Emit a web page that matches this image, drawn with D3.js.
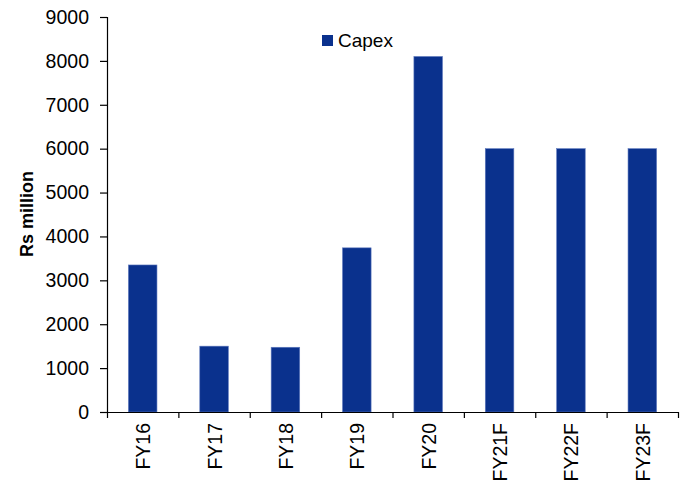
<!DOCTYPE html>
<html>
<head>
<meta charset="utf-8">
<script src="https://cdn.jsdelivr.net/npm/d3@7"></script>
<style>
  html, body { margin: 0; padding: 0; background: #fff; }
  svg { display: block; font-family: "Liberation Sans", Arial, sans-serif; }
</style>
</head>
<body>
<svg id="chart" width="691" height="486"></svg>
<script>
const categories = ["FY16", "FY17", "FY18", "FY19", "FY20", "FY21F", "FY22F", "FY23F"];
const capex = [3350, 1500, 1475, 3740, 8100, 6000, 6000, 6000];
const yTicks = [0, 1000, 2000, 3000, 4000, 5000, 6000, 7000, 8000, 9000];
const seriesName = "Capex";
const yTitle = "Rs million";

(function () {
const svg = d3.select("#chart");
const mLeft = 107, mRight = 678, mTop = 17, mBottom = 412;
const barColor = "#0a318d";

const x = d3.scaleBand().domain(categories).range([mLeft, mRight]).paddingInner(0.6).paddingOuter(0.3);
const y = d3.scaleLinear().domain([0, 9000]).range([mBottom, mTop]);

// bars
svg.append("g").selectAll("rect").data(categories).join("rect")
  .attr("x", d => x(d))
  .attr("width", x.bandwidth())
  .attr("y", (d, i) => y(capex[i]))
  .attr("height", (d, i) => y(0) - y(capex[i]))
  .attr("fill", barColor)
  .attr("stroke", "#5d78bd")
  .attr("stroke-width", 0.6);

// y axis
const yAxis = svg.append("g").attr("transform", `translate(${mLeft},0)`)
  .call(d3.axisLeft(y).tickValues(yTicks).tickSize(7).tickPadding(11).tickFormat(d3.format("d")));
yAxis.selectAll("text").attr("font-size", 19.5).attr("fill", "#000").attr("font-family", "Liberation Sans, Arial, sans-serif");
yAxis.selectAll("line, path").attr("stroke", "#000").attr("stroke-width", 1.2);

// x axis with ticks at category boundaries
const xb = d3.scaleLinear().domain([0, categories.length]).range([mLeft, mRight]);
const xAxis = svg.append("g").attr("transform", `translate(0,${mBottom})`)
  .call(d3.axisBottom(xb).ticks(categories.length).tickSize(6).tickSizeOuter(0).tickFormat(""));
xAxis.selectAll("line, path").attr("stroke", "#000").attr("stroke-width", 1.2);

// category labels
svg.append("g").selectAll("text").data(categories).join("text")
  .attr("transform", d => `translate(${x(d) + x.bandwidth() / 2 + 7.5},${mBottom + 11}) rotate(-90)`)
  .attr("text-anchor", "end")
  .attr("font-size", 19.5)
  .attr("fill", "#000")
  .text(d => d);

// y title
svg.append("text")
  .attr("transform", `translate(33,214) rotate(-90)`)
  .attr("text-anchor", "middle")
  .attr("font-size", 18)
  .attr("font-weight", "bold")
  .attr("fill", "#000")
  .text(yTitle);

// legend
svg.append("rect").attr("x", 322).attr("y", 35).attr("width", 11).attr("height", 11).attr("fill", barColor);
svg.append("text").attr("x", 338).attr("y", 47).attr("font-size", 19).attr("fill", "#000").text(seriesName);
})();
</script>
</body>
</html>
